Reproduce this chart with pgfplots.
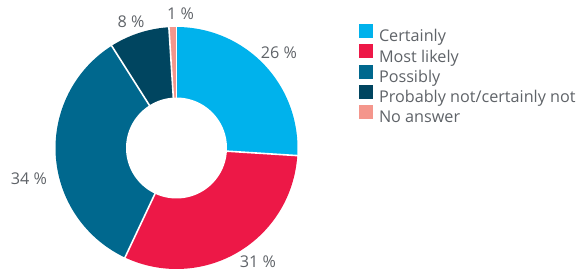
\documentclass[border=0pt]{standalone}
\usepackage{fontspec}
\setmainfont{Open Sans}
\usepackage{pgfplots}
\pgfplotsset{compat=1.18}
\definecolor{cCert}{RGB}{0,178,236}
\definecolor{cMost}{RGB}{237,24,71}
\definecolor{cPoss}{RGB}{0,104,142}
\definecolor{cProb}{RGB}{0,69,96}
\definecolor{cNo}{RGB}{244,150,140}
\definecolor{txt}{RGB}{95,99,104}
\newcommand\labfont{\fontsize{16.2bp}{19bp}\selectfont}
\def\R{121}
\def\r{50.5}
% slice: #1 colour, #2 cumulative start (%), #3 value (%)
\newcommand\slice[3]{%
  \addplot[fill=#1, draw=none, samples at={-1,0,1,...,60}, variable=\t]
    ({\R*(\t>=0)*cos(90-3.6*(#2+#3*\t/60))},{\R*(\t>=0)*sin(90-3.6*(#2+#3*\t/60))});
}
\newcommand\sep[1]{%
  \addplot[white, line width=1.6bp, samples at={0,1}, variable=\t, forget plot]
    ({\t*(\R+2)*cos(90-3.6*#1)},{\t*(\R+2)*sin(90-3.6*#1)});
}
\begin{document}
\begin{tikzpicture}
\begin{axis}[
  hide axis, x=1bp, y=1bp,
  xmin=-176.5, xmax=402.5, ymin=-122, ymax=148,
  clip=false,
  legend cell align=left,
  legend image code/.code={\fill[#1,draw=none] (0bp,-0.3bp) rectangle (14bp,13.7bp);},
  legend style={at={(axis cs:182.5,124)}, anchor=north west, draw=none, fill=none,
    inner sep=0pt, outer sep=0pt, row sep=-1.2bp, column sep=6bp,
    font=\labfont, text=txt,
    nodes={inner sep=0pt, text height=12bp, text depth=3.5bp}},
]
\slice{cCert}{0}{26}
\slice{cMost}{26}{31}
\slice{cPoss}{57}{34}
\slice{cProb}{91}{8}
\slice{cNo}{99}{1}
\sep{0}\sep{26}\sep{57}\sep{91}\sep{99}
\addplot[fill=white, draw=none, domain=0:360, samples=120, forget plot]
  ({\r*cos(x)},{\r*sin(x)});
\legend{Certainly, Most likely, Possibly, Probably not/certainly not, No answer}
\node[font=\labfont, text=txt] at (axis cs:102.5,95.5) {26 \%};
\node[font=\labfont, text=txt] at (axis cs:81.5,-113.5) {31 \%};
\node[font=\labfont, text=txt] at (axis cs:-147.5,-31) {34 \%};
\node[font=\labfont, text=txt] at (axis cs:-45.5,126.5) {8 \%};
\node[font=\labfont, text=txt] at (axis cs:4,134) {1 \%};
\end{axis}
\pgfresetboundingbox
\path[use as bounding box] (current axis.south west) rectangle (current axis.north east);
\end{tikzpicture}
\end{document}
